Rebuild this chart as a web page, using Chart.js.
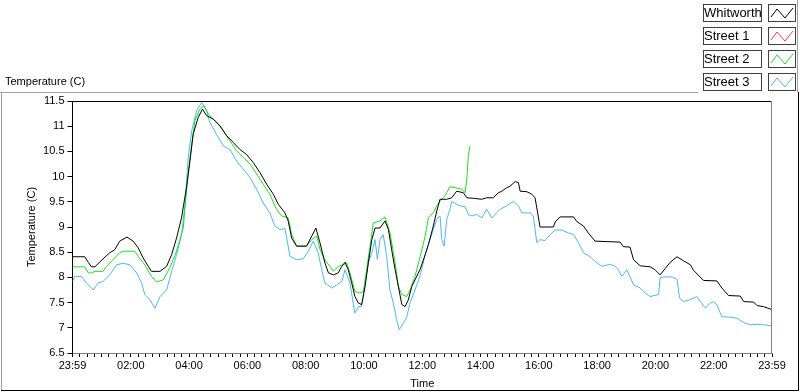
<!DOCTYPE html>
<html>
<head>
<meta charset="utf-8">
<title>Temperature (C)</title>
<script src="https://cdn.jsdelivr.net/npm/chart.js@4.4.0/dist/chart.umd.min.js"></script>
<style>
    html, body { margin: 0; padding: 0; background: #fff; }
    canvas { display: block; }
</style>
</head>
<body>
<canvas id="tempChart" width="800" height="392"></canvas>
<script>
// x axis runs 0..24 h (23:59 of the previous day to 23:59)
const tickLabels = ['23:59', '02:00', '04:00', '06:00', '08:00', '10:00', '12:00',
                    '14:00', '16:00', '18:00', '20:00', '22:00', '23:59'];

const seriesNames = ['Whitworth', 'Street 1', 'Street 2', 'Street 3'];
const seriesColors = ['#000000', '#ff3b3b', '#1ee01e', '#4cb8f0'];

// Whitworth
const whitworthHours = [0, 0.42, 0.54, 0.65, 0.77, 1.05, 1.28, 1.45, 1.62, 1.87,
    2.08, 2.25, 2.42, 2.6, 2.71, 3.0, 3.23, 3.4, 3.57, 3.74,
    3.91, 4.03, 4.14, 4.31, 4.46, 4.6, 4.83, 5.06, 5.29, 5.51,
    5.74, 5.97, 6.2, 6.43, 6.66, 6.89, 7.06, 7.29, 7.4, 7.52,
    7.69, 8.03, 8.21, 8.35, 8.49, 8.66, 8.78, 8.95, 9.12, 9.24,
    9.35, 9.46, 9.58, 9.69, 9.81, 9.92, 10.04, 10.15, 10.27, 10.38,
    10.55, 10.72, 10.84, 10.95, 11.07, 11.18, 11.3, 11.41, 11.52, 11.64,
    11.75, 11.92, 12.1, 12.21, 12.38, 12.5, 12.61, 12.84, 13.01, 13.18,
    13.41, 13.53, 13.75, 14.04, 14.21, 14.44, 14.61, 14.73, 14.9, 15.01,
    15.19, 15.3, 15.36, 15.59, 15.76, 15.87, 15.99, 16.04, 16.5, 16.56,
    16.73, 17.19, 17.3, 17.53, 17.7, 17.93, 18.79, 18.9, 19.13, 19.25,
    19.48, 19.82, 19.99, 20.16, 20.34, 20.51, 20.74, 20.96, 21.2, 21.31,
    21.65, 22.11, 22.28, 22.51, 22.91, 23.03, 23.37, 23.49, 23.71, 24.0];
const whitworthTemp = [8.41, 8.41, 8.30, 8.21, 8.21, 8.37, 8.49, 8.55, 8.72, 8.80,
    8.72, 8.59, 8.39, 8.22, 8.12, 8.12, 8.22, 8.45, 8.78, 9.18,
    9.78, 10.31, 10.84, 11.17, 11.34, 11.21, 11.14, 11.01, 10.81, 10.68,
    10.54, 10.44, 10.28, 10.08, 9.85, 9.65, 9.45, 9.28, 9.12, 8.78,
    8.62, 8.62, 8.82, 8.98, 8.69, 8.29, 8.09, 8.05, 8.09, 8.22,
    8.30, 8.15, 7.89, 7.62, 7.49, 7.46, 7.82, 8.29, 8.75, 8.98,
    8.98, 9.12, 8.95, 8.55, 8.15, 7.82, 7.46, 7.42, 7.55, 7.82,
    7.95, 8.15, 8.45, 8.65, 9.02, 9.32, 9.55, 9.55, 9.58, 9.71,
    9.68, 9.58, 9.57, 9.55, 9.58, 9.58, 9.68, 9.71, 9.78, 9.81,
    9.90, 9.88, 9.71, 9.70, 9.65, 9.58, 9.18, 9.00, 9.00, 9.10,
    9.20, 9.20, 9.11, 9.02, 8.88, 8.72, 8.70, 8.61, 8.60, 8.35,
    8.23, 8.21, 8.15, 8.05, 8.18, 8.30, 8.41, 8.33, 8.25, 8.14,
    7.94, 7.93, 7.79, 7.64, 7.63, 7.52, 7.51, 7.44, 7.42, 7.36];

// Street 1 (no readings on this day)
const street1Hours = [];
const street1Temp = [];

// Street 2 (stops at about 13:40)
const street2Hours = [0, 0.42, 0.54, 0.65, 0.77, 1.05, 1.17, 1.39, 1.62, 1.74,
    2.14, 2.25, 2.48, 2.71, 2.88, 3.11, 3.34, 3.57, 3.8, 3.91,
    4.03, 4.2, 4.37, 4.51, 4.66, 4.94, 5.17, 5.4, 5.63, 5.86,
    6.09, 6.32, 6.54, 6.77, 7.0, 7.17, 7.4, 7.52, 7.69, 8.03,
    8.21, 8.38, 8.49, 8.66, 8.83, 8.95, 9.12, 9.29, 9.41, 9.52,
    9.69, 9.86, 9.98, 10.09, 10.21, 10.32, 10.55, 10.72, 10.89, 11.07,
    11.18, 11.3, 11.47, 11.58, 11.75, 11.92, 12.1, 12.21, 12.38, 12.5,
    12.61, 12.73, 12.84, 12.95, 13.13, 13.36, 13.47, 13.53, 13.58, 13.64];
const street2Temp = [8.21, 8.21, 8.09, 8.09, 8.12, 8.12, 8.22, 8.35, 8.49, 8.52,
    8.52, 8.42, 8.25, 8.02, 7.91, 7.95, 8.19, 8.52, 8.98, 9.71,
    10.38, 11.11, 11.34, 11.41, 11.24, 11.08, 10.91, 10.71, 10.51, 10.38,
    10.25, 10.05, 9.85, 9.65, 9.35, 9.22, 9.18, 8.85, 8.62, 8.62,
    8.75, 8.82, 8.56, 8.35, 8.22, 8.12, 8.22, 8.25, 8.29, 8.09,
    7.72, 7.69, 7.72, 8.15, 8.62, 9.08, 9.12, 9.20, 8.89, 8.29,
    7.82, 7.66, 7.62, 7.75, 8.02, 8.39, 8.82, 9.18, 9.28, 9.42,
    9.52, 9.58, 9.68, 9.80, 9.78, 9.75, 9.68, 9.95, 10.41, 10.61];

// Street 3
const street3Hours = [0, 0.08, 0.31, 0.48, 0.71, 0.88, 1.05, 1.28, 1.51, 1.74,
    1.97, 2.2, 2.37, 2.48, 2.65, 2.83, 3.0, 3.23, 3.34, 3.57,
    3.74, 3.86, 3.97, 4.09, 4.26, 4.43, 4.6, 4.71, 4.94, 5.17,
    5.4, 5.63, 5.86, 6.09, 6.32, 6.54, 6.77, 6.94, 7.12, 7.29,
    7.46, 7.69, 7.92, 8.09, 8.26, 8.43, 8.55, 8.66, 8.89, 9.06,
    9.24, 9.35, 9.52, 9.63, 9.69, 9.81, 9.92, 10.04, 10.15, 10.27,
    10.38, 10.46, 10.55, 10.66, 10.78, 10.89, 11.01, 11.12, 11.21, 11.35,
    11.47, 11.58, 11.75, 11.92, 12.1, 12.21, 12.38, 12.5, 12.61, 12.67,
    12.75, 12.84, 12.95, 13.01, 13.18, 13.3, 13.47, 13.58, 13.7, 13.87,
    14.04, 14.21, 14.39, 14.55, 14.67, 14.9, 15.13, 15.3, 15.42, 15.7,
    15.81, 15.93, 16.04, 16.21, 16.39, 16.56, 16.79, 17.02, 17.19, 17.36,
    17.53, 17.76, 17.93, 18.16, 18.45, 18.62, 18.73, 18.85, 19.02, 19.13,
    19.25, 19.48, 19.65, 19.82, 20.11, 20.16, 20.28, 20.57, 20.74, 20.83,
    20.96, 21.2, 21.42, 21.54, 21.71, 21.88, 22.0, 22.11, 22.28, 22.57,
    22.8, 23.03, 23.26, 23.49, 23.71, 24.0];
const street3Temp = [7.92, 8.02, 8.02, 7.89, 7.75, 7.89, 7.92, 8.05, 8.25, 8.28,
    8.25, 8.09, 7.89, 7.66, 7.56, 7.39, 7.62, 7.75, 7.99, 8.45,
    8.85, 9.45, 10.38, 10.91, 11.31, 11.47, 11.31, 11.08, 10.84, 10.61,
    10.54, 10.31, 10.15, 9.98, 9.75, 9.48, 9.28, 9.02, 8.95, 8.97,
    8.42, 8.35, 8.37, 8.52, 8.72, 8.49, 8.15, 7.89, 7.79, 7.85,
    7.92, 8.15, 7.89, 7.49, 7.29, 7.42, 7.42, 7.89, 8.29, 8.49,
    8.75, 8.36, 8.75, 8.85, 8.42, 7.75, 7.49, 7.16, 6.96, 7.09,
    7.22, 7.49, 7.75, 8.02, 8.45, 8.65, 8.95, 9.15, 9.22, 8.75,
    8.62, 9.15, 9.35, 9.51, 9.45, 9.42, 9.40, 9.25, 9.22, 9.25,
    9.18, 9.35, 9.18, 9.28, 9.35, 9.42, 9.51, 9.42, 9.28, 9.28,
    9.22, 8.69, 8.75, 8.73, 8.85, 8.94, 8.94, 8.88, 8.85, 8.69,
    8.49, 8.41, 8.32, 8.22, 8.26, 8.22, 8.15, 8.02, 8.15, 8.01,
    7.85, 7.79, 7.69, 7.62, 7.66, 7.99, 8.01, 8.01, 7.96, 7.59,
    7.52, 7.56, 7.62, 7.52, 7.39, 7.49, 7.52, 7.45, 7.22, 7.21,
    7.19, 7.10, 7.06, 7.07, 7.06, 7.04];

const FONT = '"Liberation Sans", Arial, sans-serif';

function toPoints(hours, temps) {
    return hours.map((h, i) => ({ x: h, y: temps[i] }));
}

function hline(ctx, x1, x2, y) {
    ctx.beginPath();
    ctx.moveTo(x1, y);
    ctx.lineTo(x2, y);
    ctx.stroke();
}

function vline(ctx, x, y1, y2) {
    ctx.beginPath();
    ctx.moveTo(x, y1);
    ctx.lineTo(x, y2);
    ctx.stroke();
}

// panel frame, plot box, top-left caption and the plot legend
const panelPlugin = {
    id: 'panel',
    beforeDraw(chart) {
        const ctx = chart.ctx;
        ctx.save();
        ctx.fillStyle = '#ffffff';
        ctx.fillRect(0, 0, chart.width, chart.height);
        ctx.restore();
    },
    afterDraw(chart) {
        const ctx = chart.ctx;
        const area = chart.chartArea;
        ctx.save();
        ctx.lineWidth = 1;

        // outer panel: grey top/left, black bottom/right
        ctx.strokeStyle = '#a0a0a0';
        hline(ctx, 0, 698, 92.5);
        vline(ctx, 1.5, 92, 391);
        vline(ctx, 797.5, 0, 92);
        ctx.strokeStyle = '#000000';
        hline(ctx, 1, 799, 390.5);
        vline(ctx, 798.5, 92, 391);

        // plot box top and right edges
        const top = Math.round(area.top) + 0.5;
        const right = Math.round(area.right) - 0.5;
        ctx.strokeStyle = '#000000';
        hline(ctx, area.left, right, top);
        ctx.strokeStyle = '#808080';
        vline(ctx, right, top, Math.round(area.bottom));

        // caption
        ctx.fillStyle = '#000000';
        ctx.font = '11px ' + FONT;
        ctx.textBaseline = 'middle';
        ctx.textAlign = 'left';
        ctx.fillText('Temperature (C)', 5, 82);

        // legend
        ctx.font = '13px ' + FONT;
        chart.data.datasets.forEach((ds, i) => {
            const y = 4 + i * 23;
            ctx.strokeStyle = '#404040';
            ctx.strokeRect(703.5, y + 0.5, 58, 17);
            ctx.strokeRect(768.5, y + 0.5, 27, 17);
            ctx.fillStyle = '#000000';
            ctx.fillText(ds.label, 704, y + 9.5);
            ctx.strokeStyle = ds.borderColor;
            ctx.beginPath();
            ctx.moveTo(771, y + 13);
            ctx.lineTo(777, y + 5);
            ctx.lineTo(785, y + 14);
            ctx.lineTo(793, y + 4);
            ctx.stroke();
        });
        ctx.restore();
    }
};

const seriesHours = [whitworthHours, street1Hours, street2Hours, street3Hours];
const seriesTemps = [whitworthTemp, street1Temp, street2Temp, street3Temp];

Chart.defaults.font.family = FONT;
Chart.defaults.font.size = 11;
Chart.defaults.color = '#000000';

const ctx = document.getElementById('tempChart').getContext('2d');
const tempChart = new Chart(ctx, {
    type: 'line',
    data: {
        datasets: seriesNames.map((name, i) => ({
            label: name,
            data: toPoints(seriesHours[i], seriesTemps[i]),
            borderColor: seriesColors[i],
            backgroundColor: seriesColors[i],
            borderWidth: 1,
            pointRadius: 0,
            tension: 0,
            fill: false
        }))
    },
    options: {
        responsive: false,
        animation: false,
        devicePixelRatio: 1,
        layout: {
            padding: { top: 101, right: 28, bottom: 0, left: 0 }
        },
        scales: {
            x: {
                type: 'linear',
                min: 0,
                max: 24,
                afterFit(scale) { scale.height = 39; },
                border: { color: '#808080', width: 1 },
                grid: { drawOnChartArea: false, tickLength: 4, tickColor: '#000000' },
                ticks: {
                    stepSize: 0.25,
                    autoSkip: false,
                    maxRotation: 0,
                    padding: 2,
                    color: '#000000',
                    callback: v => (v % 2 === 0 ? tickLabels[v / 2] : '')
                },
                title: {
                    display: true,
                    text: 'Time',
                    color: '#000000',
                    padding: { top: 0, bottom: 1 }
                }
            },
            y: {
                min: 6.5,
                max: 11.5,
                afterFit(scale) { scale.width = 72.5; },
                border: { color: '#000000', width: 1 },
                grid: { drawOnChartArea: false, tickLength: 5, tickColor: '#000000' },
                ticks: {
                    stepSize: 0.5,
                    padding: 3,
                    color: '#000000',
                    callback: v => String(v)
                },
                title: {
                    display: true,
                    text: 'Temperature (C)',
                    color: '#000000',
                    padding: { top: 25, bottom: 0 }
                }
            }
        },
        plugins: {
            legend: { display: false },
            tooltip: { enabled: false }
        }
    },
    plugins: [panelPlugin]
});
</script>
</body>
</html>
